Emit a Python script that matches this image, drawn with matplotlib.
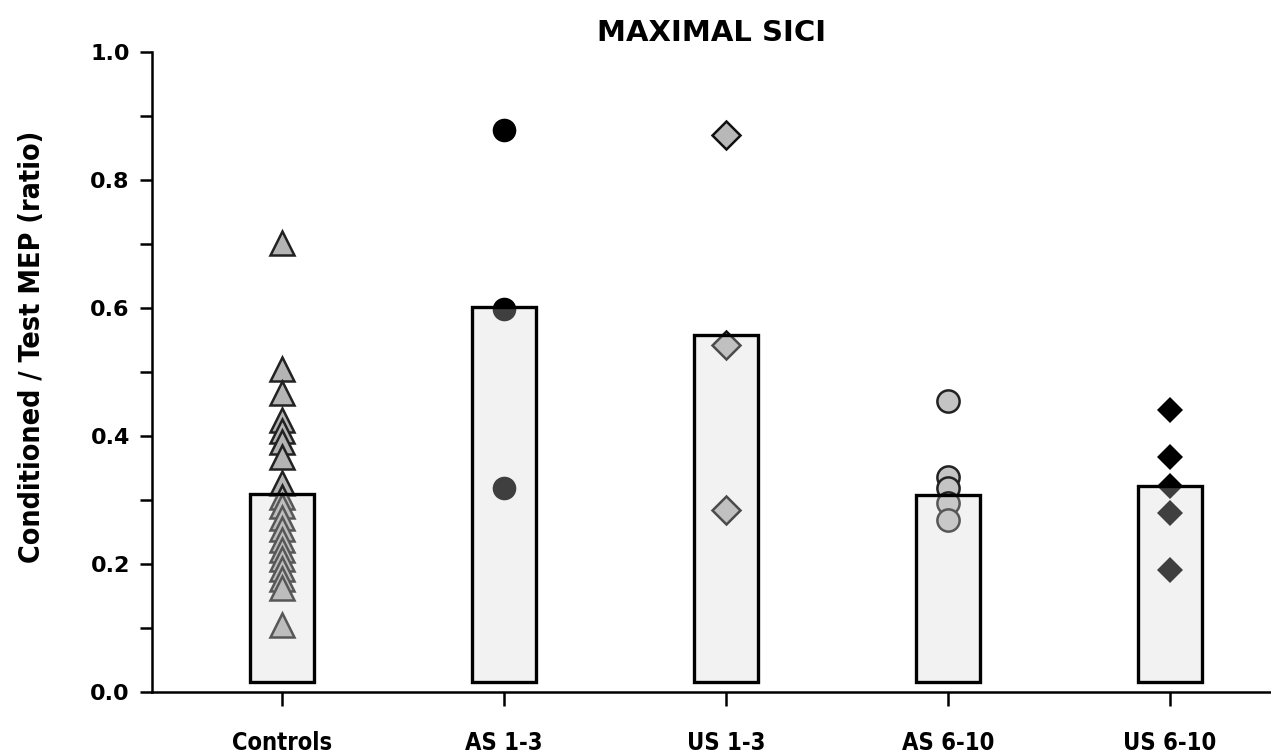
import numpy as np
import matplotlib
matplotlib.use('Agg')
import matplotlib.pyplot as plt

# group labels and values
groups = ['Controls', 'AS 1-3', 'US 1-3', 'AS 6-10', 'US 6-10']
bar_means = [0.309, 0.601, 0.557, 0.308, 0.322]

controls = [0.702, 0.505, 0.467, 0.425, 0.408, 0.390, 0.367, 0.327,
            0.305, 0.290, 0.272, 0.255, 0.237, 0.222, 0.207, 0.192,
            0.177, 0.162, 0.105]
as_1_3 = [0.878, 0.599, 0.319]
us_1_3 = [0.871, 0.542, 0.285]
as_6_10 = [0.454, 0.336, 0.318, 0.295, 0.269]
us_6_10 = [0.440, 0.367, 0.322, 0.280, 0.190]

bar_base = 0.015

fig = plt.figure(figsize=(12.71, 7.56), dpi=100)
ax = fig.add_axes([0.1196, 0.0847, 0.8804, 0.8466])

x = np.arange(len(groups))

# scatter of individual subjects (drawn under the bars)
ax.plot([x[0]] * len(controls), controls, ls='none', marker='^', ms=17,
        mfc='#b4b4b4', mec='#222222', mew=1.8, zorder=2)
ax.plot([x[1]] * len(as_1_3), as_1_3, ls='none', marker='o', ms=17,
        mfc='black', mec='black', mew=0, zorder=2)
ax.plot([x[2]] * len(us_1_3), us_1_3, ls='none', marker='D', ms=14,
        mfc='#b8b8b8', mec='#111111', mew=1.8, zorder=2)
ax.plot([x[3]] * len(as_6_10), as_6_10, ls='none', marker='o', ms=16,
        mfc='#c4c4c4', mec='#222222', mew=1.8, zorder=2)
ax.plot([x[4]] * len(us_6_10), us_6_10, ls='none', marker='D', ms=13,
        mfc='black', mec='black', mew=0, zorder=2)

# mean bars, semi transparent on top of the points
heights = [m - bar_base for m in bar_means]
ax.bar(x, heights, bottom=bar_base, width=0.29,
       facecolor=(0.83, 0.83, 0.83, 0.3), edgecolor='black',
       linewidth=2.4, zorder=3)

ax.set_xlim(-0.585, 4.455)
ax.set_ylim(0, 1.0)
ax.set_yticks([0.0, 0.2, 0.4, 0.6, 0.8, 1.0])
ax.set_yticks(np.arange(0.1, 1.0, 0.2), minor=True)
ax.set_yticklabels(['0.0', '0.2', '0.4', '0.6', '0.8', '1.0'],
                   fontsize=16, fontweight='bold')
ax.set_xticks(x)
ax.set_xticklabels(groups, fontsize=17, fontweight='bold', fontstretch='condensed')

for side in ['top', 'right']:
    ax.spines[side].set_visible(False)
ax.spines['left'].set_linewidth(1.8)
ax.spines['bottom'].set_linewidth(1.8)
ax.tick_params(axis='y', which='both', direction='out', length=9, width=1.8, pad=7)
ax.tick_params(axis='x', direction='out', length=10, width=1.8, pad=18)

ax.set_ylabel('Conditioned / Test MEP (ratio)', fontsize=20.5, fontweight='bold',
              fontstretch='condensed')
ax.yaxis.set_label_coords(-0.095, 0.54)
ax.set_title('MAXIMAL SICI', fontsize=21, fontweight='bold', pad=8)

fig.savefig('out.png', dpi=100)
